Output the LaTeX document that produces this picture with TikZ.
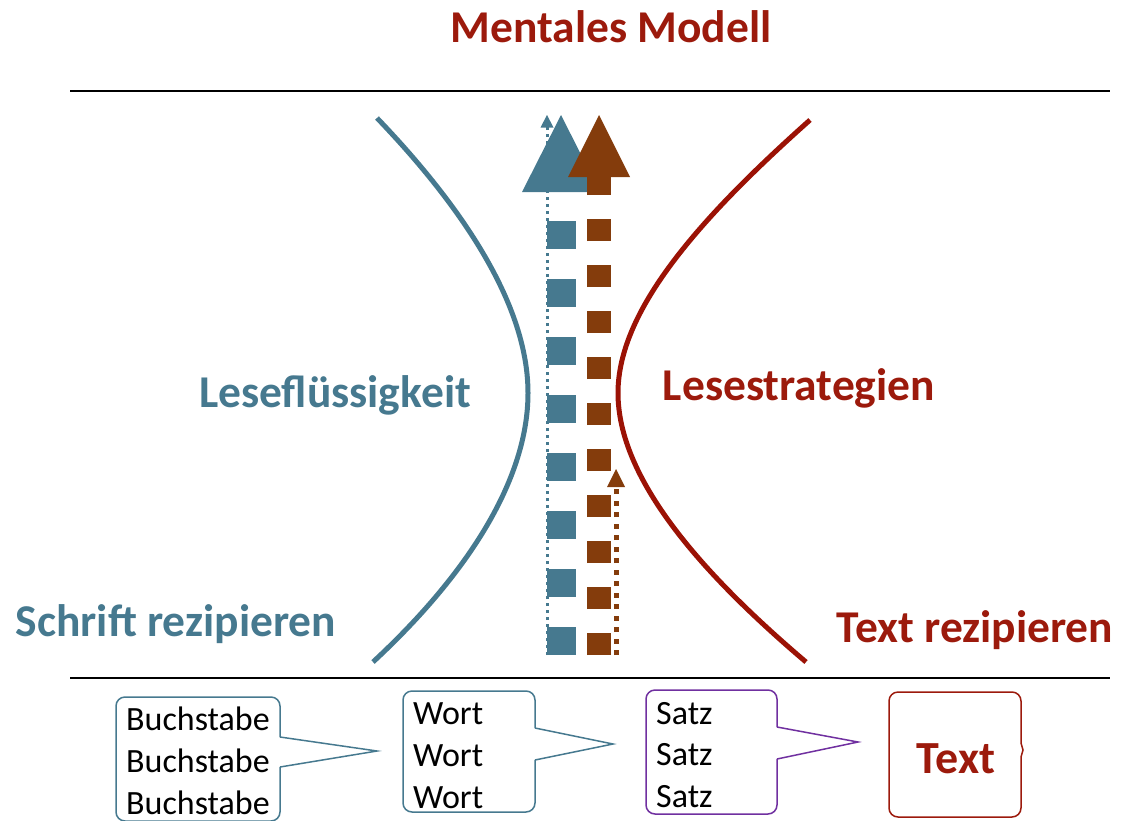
\documentclass[tikz,border=0pt]{standalone}
\usepackage{fontspec}
\setmainfont{Carlito}
\definecolor{steel}{HTML}{46798F}
\definecolor{rust}{HTML}{843C0C}
\definecolor{dred}{HTML}{9C1A0C}
\definecolor{cred}{HTML}{9B1205}
\definecolor{purp}{HTML}{7030A0}
\begin{document}
\begin{tikzpicture}[x=1pt,y=-1pt,
  big/.style={font=\bfseries\fontsize{45.5}{54}\selectfont},
  small/.style={font=\fontsize{34}{42}\selectfont,inner sep=0pt,anchor=base west},
  rule/.style={line width=1.5pt,black},
  curve/.style={line width=5pt},
  box/.style={line width=1.5pt,rounded corners=9pt}]
\useasboundingbox (0,0) rectangle (1125,820);
\clip (0,0) rectangle (1125,820);
% rules
\coordinate (tl) at (70,91); \coordinate (tr) at (1110,91);
\coordinate (bl) at (70,678); \coordinate (br) at (1110,678);
\draw[rule] (tl) -- (tr);
\draw[rule] (bl) -- (br);
% titles
\node[big,text=dred,anchor=base] (title) at (611,42) {Mentales Modell};
\node[big,text=steel,anchor=base] (lf) at (335,407) {Leseflüssigkeit};
\node[big,text=dred,anchor=base] (ls) at (799,400) {Lesestrategien};
\node[big,text=steel,anchor=base] (sr) at (176,636) {Schrift rezipieren};
\node[big,text=dred,anchor=base] (trz) at (975,642) {Text rezipieren};
% curves
\draw[curve,steel] (377,118) .. controls (470,215) and (528,310) .. (528,393)
   .. controls (528,478) and (470,572) .. (373,662);
\draw[curve,cred] (810,120) .. controls (700,218) and (618,310) .. (618,393)
   .. controls (618,478) and (700,572) .. (806,662);
% blue big arrow
\coordinate (bbS) at (561.5,655); \coordinate (bbE) at (561.5,192);
\draw[steel,line width=28.5pt,dash pattern=on 28.5pt off 29.5pt] (bbS) -- (bbE);
\fill[steel] (522,192) -- (561,115) -- (600,192) -- cycle;
% blue dotted arrow
\coordinate (bdS) at (547,655); \coordinate (bdE) at (547,127);
\draw[steel,line width=3pt,dash pattern=on 3.5pt off 3.5pt] (bdS) -- (bdE);
\fill[steel] (540.5,127.5) -- (547,115) -- (553.5,127.5) -- cycle;
% brown big arrow
\coordinate (rbS) at (599,655); \coordinate (rbE) at (599,177);
\draw[rust,line width=24pt,dash pattern=on 22.5pt off 23.5pt] (rbS) -- (rbE);
\fill[rust] (568,177) -- (599,115) -- (630,177) -- cycle;
% brown dotted arrow
\coordinate (rdS) at (616,655); \coordinate (rdE) at (616,487);
\draw[rust,line width=5pt,dash pattern=on 5pt off 6.5pt] (rdS) -- (rdE);
\fill[rust] (607,487) -- (616,469) -- (625,487) -- cycle;
% Buchstabe callout
\draw[box,steel] (280,767) -- (280,821) -- (116,821) -- (116,697) -- (280,697) -- (280,737);
\draw[steel,line width=1.5pt] (280,737) -- (377,751) -- (280,767);
\node[small] (b1) at (126,730) {Buchstabe};
\node[small] (b2) at (126,772) {Buchstabe};
\node[small] (b3) at (126,814) {Buchstabe};
% Wort callout
\draw[box,steel] (535,760) -- (535,812) -- (403,812) -- (403,691) -- (535,691) -- (535,728);
\draw[steel,line width=1.5pt] (535,728) -- (613,744) -- (535,760);
\node[small] (w1) at (413,724) {Wort};
\node[small] (w2) at (413,766) {Wort};
\node[small] (w3) at (413,808) {Wort};
% Satz callout
\draw[box,purp] (777,759) -- (777,814) -- (646,814) -- (646,690) -- (777,690) -- (777,727);
\draw[purp,line width=1.5pt] (777,727) -- (858,742) -- (777,759);
\node[small] (s1) at (656,724) {Satz};
\node[small] (s2) at (656,765) {Satz};
\node[small] (s3) at (656,807) {Satz};
% Text box
\draw[box,dred] (1021,757) -- (1021,817) -- (889,817) -- (889,692) -- (1021,692) -- (1021,743);
\draw[dred,line width=1.5pt] (1021,743) -- (1023,750) -- (1021,757);
\node[font=\bfseries\fontsize{46}{54}\selectfont,text=dred,anchor=base] (tx) at (956,773) {Text};
\end{tikzpicture}
\end{document}
